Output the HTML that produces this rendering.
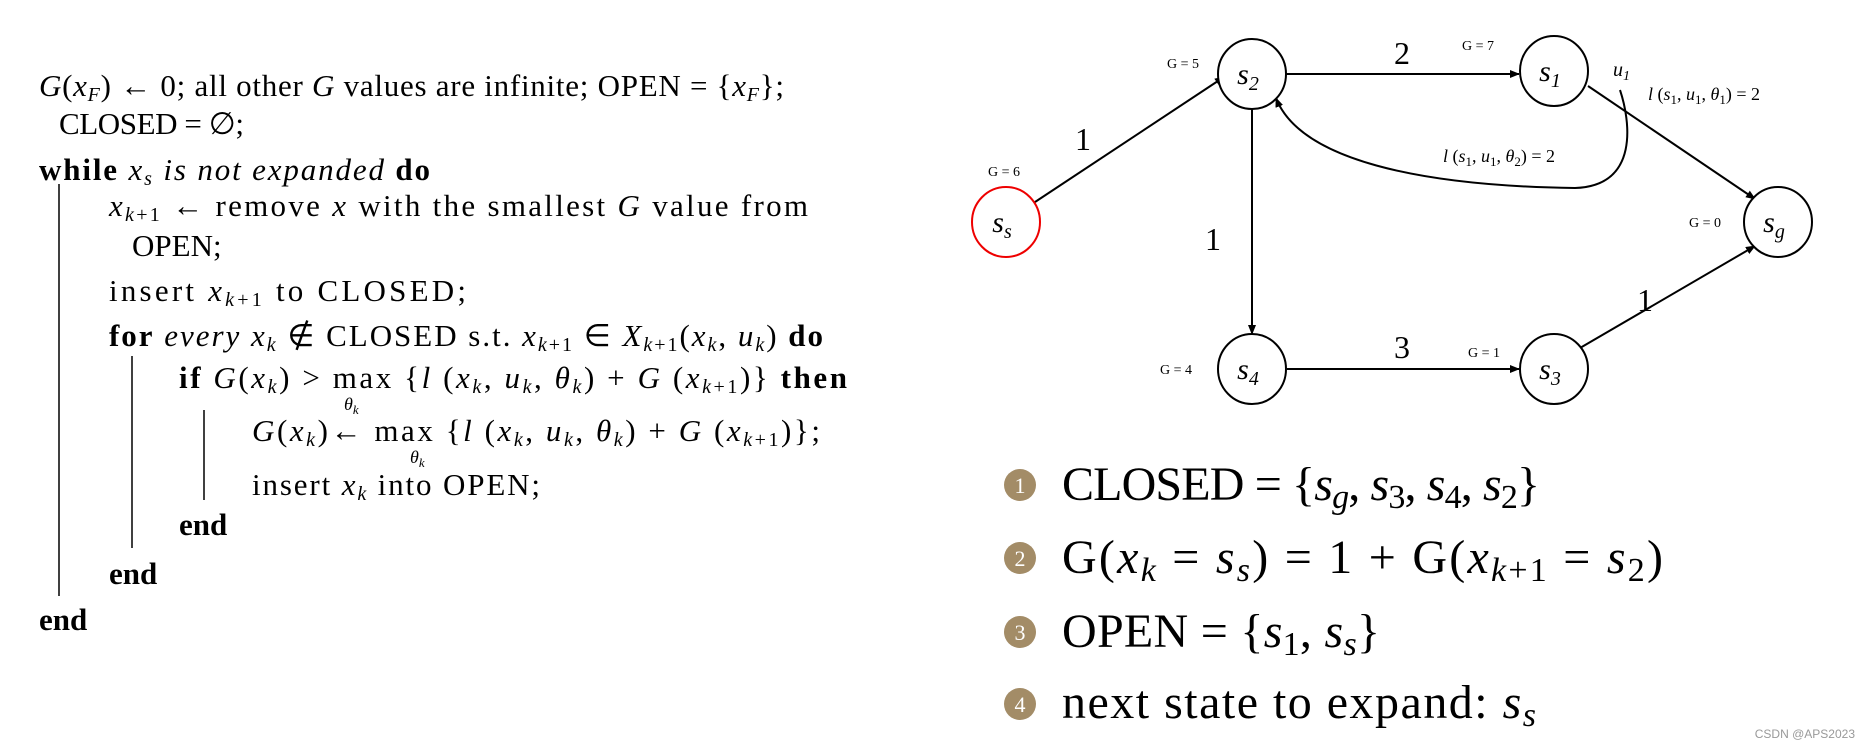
<!DOCTYPE html>
<html><head><meta charset="utf-8"><style>
html,body{margin:0;padding:0;background:#fff;}
svg{display:block;}
text{font-family:"Liberation Serif",serif;fill:#000;}
.b{font-weight:bold;}
.i{font-style:italic;}
</style></head><body>
<svg width="1863" height="752" viewBox="0 0 1863 752" xmlns="http://www.w3.org/2000/svg">
<defs><marker id="ar" markerWidth="10" markerHeight="8" refX="9" refY="4" orient="auto" markerUnits="userSpaceOnUse"><path d="M0,0 L10,4 L0,8 z" fill="#000"/></marker></defs>
<!-- algorithm -->
<g font-size="31">
<text x="39" y="96" textLength="745" lengthAdjust="spacing"><tspan class="i">G</tspan>(<tspan class="i">x</tspan><tspan class="i" font-size="20" dy="5">F</tspan><tspan dy="-5">) ← 0; all other </tspan><tspan class="i">G</tspan> values are infinite; OPEN = {<tspan class="i">x</tspan><tspan class="i" font-size="20" dy="5">F</tspan><tspan dy="-5">};</tspan></text>
<text x="59" y="134" textLength="185" lengthAdjust="spacing">CLOSED = ∅;</text>
<text x="39" y="180" textLength="391" lengthAdjust="spacing"><tspan class="b">while</tspan> <tspan class="i">x<tspan font-size="20" dy="5">s</tspan><tspan dy="-5"> is not expanded</tspan></tspan> <tspan class="b">do</tspan></text>
<text x="109" y="216" textLength="699" lengthAdjust="spacing"><tspan class="i">x</tspan><tspan font-size="20" dy="5"><tspan class="i">k</tspan>+1</tspan><tspan dy="-5"> ← remove </tspan><tspan class="i">x</tspan> with the smallest <tspan class="i">G</tspan> value from</text>
<text x="132" y="256">OPEN;</text>
<text x="109" y="301" textLength="357" lengthAdjust="spacing">insert <tspan class="i">x</tspan><tspan font-size="20" dy="5"><tspan class="i">k</tspan>+1</tspan><tspan dy="-5"> to CLOSED;</tspan></text>
<text x="109" y="346" textLength="714" lengthAdjust="spacing"><tspan class="b">for</tspan> <tspan class="i">every x</tspan><tspan class="i" font-size="20" dy="5">k</tspan><tspan dy="-5"> ∉ CLOSED s.t. </tspan><tspan class="i">x</tspan><tspan font-size="20" dy="5"><tspan class="i">k</tspan>+1</tspan><tspan dy="-5"> ∈ </tspan><tspan class="i">X</tspan><tspan font-size="20" dy="5"><tspan class="i">k</tspan>+1</tspan><tspan dy="-5">(</tspan><tspan class="i">x</tspan><tspan class="i" font-size="20" dy="5">k</tspan><tspan dy="-5">, </tspan><tspan class="i">u</tspan><tspan class="i" font-size="20" dy="5">k</tspan><tspan dy="-5">) </tspan><tspan class="b">do</tspan></text>
<text x="179" y="388" textLength="668" lengthAdjust="spacing"><tspan class="b">if</tspan> <tspan class="i">G</tspan>(<tspan class="i">x</tspan><tspan class="i" font-size="20" dy="5">k</tspan><tspan dy="-5">) &gt; max {</tspan><tspan class="i">l</tspan> (<tspan class="i">x</tspan><tspan class="i" font-size="20" dy="5">k</tspan><tspan dy="-5">, </tspan><tspan class="i">u</tspan><tspan class="i" font-size="20" dy="5">k</tspan><tspan dy="-5">, </tspan><tspan class="i">θ</tspan><tspan class="i" font-size="20" dy="5">k</tspan><tspan dy="-5">) + </tspan><tspan class="i">G</tspan> (<tspan class="i">x</tspan><tspan font-size="20" dy="5"><tspan class="i">k</tspan>+1</tspan><tspan dy="-5">)} </tspan><tspan class="b">then</tspan></text>
<text x="344" y="410" font-size="18" class="i">θ<tspan font-size="13" dy="4">k</tspan></text>
<text x="252" y="441" textLength="568" lengthAdjust="spacing"><tspan class="i">G</tspan>(<tspan class="i">x</tspan><tspan class="i" font-size="20" dy="5">k</tspan><tspan dy="-5">)← max {</tspan><tspan class="i">l</tspan> (<tspan class="i">x</tspan><tspan class="i" font-size="20" dy="5">k</tspan><tspan dy="-5">, </tspan><tspan class="i">u</tspan><tspan class="i" font-size="20" dy="5">k</tspan><tspan dy="-5">, </tspan><tspan class="i">θ</tspan><tspan class="i" font-size="20" dy="5">k</tspan><tspan dy="-5">) + </tspan><tspan class="i">G</tspan> (<tspan class="i">x</tspan><tspan font-size="20" dy="5"><tspan class="i">k</tspan>+1</tspan><tspan dy="-5">)};</tspan></text>
<text x="410" y="463" font-size="18" class="i">θ<tspan font-size="13" dy="4">k</tspan></text>
<text x="252" y="495" textLength="288" lengthAdjust="spacing">insert <tspan class="i">x</tspan><tspan class="i" font-size="20" dy="5">k</tspan><tspan dy="-5"> into OPEN;</tspan></text>
<text x="179" y="535" class="b">end</text>
<text x="109" y="584" class="b">end</text>
<text x="39" y="630" class="b">end</text>
</g>
<g stroke="#000" stroke-width="1.5">
<line x1="59" y1="184" x2="59" y2="596"/>
<line x1="132" y1="356" x2="132" y2="548"/>
<line x1="204" y1="410" x2="204" y2="500"/>
</g>
<!-- graph edges -->
<g stroke="#000" stroke-width="2" fill="none" marker-end="url(#ar)">
<line x1="1032" y1="204" x2="1224" y2="77"/>
<line x1="1286" y1="74" x2="1519" y2="74"/>
<line x1="1252" y1="108" x2="1252" y2="334"/>
<line x1="1287" y1="369" x2="1519" y2="369"/>
<line x1="1588" y1="86" x2="1755" y2="199"/>
<line x1="1580" y1="348" x2="1755" y2="246"/>
<path d="M1620,90 C1630,120 1640,186 1575,188 C1420,186 1300,160 1276,98"/>
</g>
<!-- nodes -->
<g stroke-width="2" fill="#fff">
<ellipse cx="1006" cy="222" rx="34" ry="35" stroke="#e00"/>
<ellipse cx="1252" cy="74" rx="34" ry="35" stroke="#000"/>
<ellipse cx="1554" cy="71" rx="34" ry="35" stroke="#000"/>
<ellipse cx="1778" cy="222" rx="34" ry="35" stroke="#000"/>
<ellipse cx="1252" cy="369" rx="34" ry="35" stroke="#000"/>
<ellipse cx="1554" cy="369" rx="34" ry="35" stroke="#000"/>
</g>
<g font-size="30" class="i" text-anchor="middle">
<text x="1002" y="232">s<tspan font-size="20" dy="6">s</tspan></text>
<text x="1248" y="84">s<tspan font-size="20" dy="6">2</tspan></text>
<text x="1550" y="81">s<tspan font-size="20" dy="6">1</tspan></text>
<text x="1774" y="232">s<tspan font-size="20" dy="6">g</tspan></text>
<text x="1248" y="379">s<tspan font-size="20" dy="6">4</tspan></text>
<text x="1550" y="379">s<tspan font-size="20" dy="6">3</tspan></text>
</g>
<g font-size="14" text-anchor="middle">
<text x="1004" y="176">G = 6</text>
<text x="1183" y="68">G = 5</text>
<text x="1478" y="50">G = 7</text>
<text x="1705" y="227">G = 0</text>
<text x="1176" y="374">G = 4</text>
<text x="1484" y="357">G = 1</text>
</g>
<g font-size="32" text-anchor="middle">
<text x="1083" y="150">1</text>
<text x="1402" y="64">2</text>
<text x="1213" y="250">1</text>
<text x="1402" y="358">3</text>
<text x="1645" y="311">1</text>
</g>
<text x="1613" y="76" font-size="20" class="i">u<tspan font-size="14" dy="4">1</tspan></text>
<text x="1648" y="100" font-size="18"><tspan class="i">l</tspan> (<tspan class="i">s</tspan><tspan font-size="13" dy="4">1</tspan><tspan dy="-4">, </tspan><tspan class="i">u</tspan><tspan font-size="13" dy="4">1</tspan><tspan dy="-4">, </tspan><tspan class="i">θ</tspan><tspan font-size="13" dy="4">1</tspan><tspan dy="-4">) = 2</tspan></text>
<text x="1443" y="162" font-size="18"><tspan class="i">l</tspan> (<tspan class="i">s</tspan><tspan font-size="13" dy="4">1</tspan><tspan dy="-4">, </tspan><tspan class="i">u</tspan><tspan font-size="13" dy="4">1</tspan><tspan dy="-4">, </tspan><tspan class="i">θ</tspan><tspan font-size="13" dy="4">2</tspan><tspan dy="-4">) = 2</tspan></text>
<!-- list -->
<g fill="#a38c67">
<circle cx="1020" cy="485" r="16"/><circle cx="1020" cy="558" r="16"/><circle cx="1020" cy="632" r="16"/><circle cx="1020" cy="704" r="16"/>
</g>
<g font-size="22" text-anchor="middle">
<text x="1020" y="493" style="fill:#fff">1</text><text x="1020" y="566" style="fill:#fff">2</text><text x="1020" y="640" style="fill:#fff">3</text><text x="1020" y="712" style="fill:#fff">4</text>
</g>
<g font-size="48">
<text x="1062" y="500" textLength="478" lengthAdjust="spacing">CLOSED = {<tspan class="i">s</tspan><tspan class="i" font-size="34" dy="8">g</tspan><tspan dy="-8">, </tspan><tspan class="i">s</tspan><tspan font-size="34" dy="8">3</tspan><tspan dy="-8">, </tspan><tspan class="i">s</tspan><tspan font-size="34" dy="8">4</tspan><tspan dy="-8">, </tspan><tspan class="i">s</tspan><tspan font-size="34" dy="8">2</tspan><tspan dy="-8">}</tspan></text>
<text x="1062" y="573" textLength="601" lengthAdjust="spacing">G(<tspan class="i">x</tspan><tspan class="i" font-size="34" dy="8">k</tspan><tspan dy="-8"> = </tspan><tspan class="i">s</tspan><tspan class="i" font-size="34" dy="8">s</tspan><tspan dy="-8">) = 1 + G(</tspan><tspan class="i">x</tspan><tspan font-size="34" dy="8"><tspan class="i">k</tspan>+1</tspan><tspan dy="-8"> = </tspan><tspan class="i">s</tspan><tspan font-size="34" dy="8">2</tspan><tspan dy="-8">)</tspan></text>
<text x="1062" y="647" textLength="318" lengthAdjust="spacing">OPEN = {<tspan class="i">s</tspan><tspan font-size="34" dy="8">1</tspan><tspan dy="-8">, </tspan><tspan class="i">s</tspan><tspan class="i" font-size="34" dy="8">s</tspan><tspan dy="-8">}</tspan></text>
<text x="1062" y="718" textLength="474" lengthAdjust="spacing">next state to expand: <tspan class="i">s</tspan><tspan class="i" font-size="34" dy="8">s</tspan></text>
</g>
<text x="1855" y="738" font-size="12" text-anchor="end" style="fill:#999;font-family:'Liberation Sans',sans-serif">CSDN @APS2023</text>
</svg>
</body></html>
